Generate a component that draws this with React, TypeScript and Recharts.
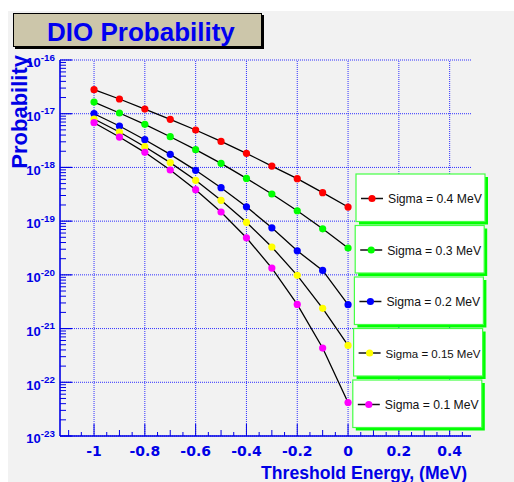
import React from 'react';
import { LineChart, Line, XAxis, YAxis, ReferenceLine, Legend } from 'recharts';

const W = 514;
const H = 482;
const AXIS_BLUE = '#0000e6';
const GRID_BLUE = '#2f2fff';
const FONT = '"Liberation Sans", Arial, Helvetica, sans-serif';

// Threshold energies (MeV) and DIO probabilities for each resolution
const thresholds = [-1, -0.9, -0.8, -0.7, -0.6, -0.5, -0.4, -0.3, -0.2, -0.1, 0];
const sigma04 = [2.8e-17, 1.88e-17, 1.22e-17, 7.85e-18, 4.97e-18, 3.05e-18, 1.83e-18, 1.06e-18, 6.17e-19, 3.39e-19, 1.83e-19];
const sigma03 = [1.65e-17, 1.03e-17, 6.34e-18, 3.73e-18, 2.14e-18, 1.19e-18, 6.25e-19, 3.2e-19, 1.56e-19, 7.2e-20, 3.16e-20];
const sigma02 = [1.0e-17, 5.9e-18, 3.28e-18, 1.75e-18, 8.83e-19, 4.19e-19, 1.85e-19, 7.5e-20, 2.8e-20, 1.21e-20, 2.78e-21];
const sigma015 = [7.96e-18, 4.56e-18, 2.43e-18, 1.23e-18, 5.75e-19, 2.44e-19, 9.5e-20, 3.3e-20, 9.8e-21, 2.38e-21, 4.86e-22];
const sigma01 = [6.8e-18, 3.68e-18, 1.91e-18, 8.95e-19, 3.85e-19, 1.48e-19, 4.9e-20, 1.34e-20, 2.82e-21, 4.34e-22, 4.2e-23];

const seriesLabels = ['Sigma = 0.4 MeV', 'Sigma = 0.3 MeV', 'Sigma = 0.2 MeV', 'Sigma = 0.15 MeV', 'Sigma = 0.1 MeV'];
const seriesKeys = ['s04', 's03', 's02', 's015', 's01'];
const seriesColors = ['#ff0000', '#00ff00', '#0000ff', '#ffff00', '#ff00ff'];
const seriesValues = [sigma04, sigma03, sigma02, sigma015, sigma01];

// Axis ticks
const xDomain = [-1.134, 0.484];
const xTicks = [-1.1, -1.05, -1, -0.95, -0.9, -0.85, -0.8, -0.75, -0.7, -0.65, -0.6, -0.55, -0.5, -0.45, -0.4,
  -0.35, -0.3, -0.25, -0.2, -0.15, -0.1, -0.05, 0, 0.05, 0.1, 0.15, 0.2, 0.25, 0.3, 0.35, 0.4, 0.45];
const xLabelled = [-1, -0.8, -0.6, -0.4, -0.2, 0, 0.2, 0.4];
const yDecades = [1e-23, 1e-22, 1e-21, 1e-20, 1e-19, 1e-18, 1e-17, 1e-16];
const yExponents = [-23, -22, -21, -20, -19, -18, -17, -16];

const yMinorTicks: number[] = [];
yExponents.slice(0, -1).forEach((e) => {
  for (let m = 2; m <= 9; m++) yMinorTicks.push(m * Math.pow(10, e));
});
const yTicks = [...yDecades, ...yMinorTicks].sort((a, b) => a - b);

const data = thresholds.map((x, i) => {
  const row: Record<string, number> = { x };
  seriesKeys.forEach((k, j) => {
    row[k] = seriesValues[j][i];
  });
  return row;
});

const isDecade = (v: number) => yDecades.some((d) => Math.abs(v - d) < d * 1e-6);

const YTick = (props: any) => {
  const { x, y, payload } = props;
  const v = payload.value;
  if (!isDecade(v)) {
    return <line x1={x} x2={x + 6} y1={y} y2={y} stroke={AXIS_BLUE} strokeWidth={1} />;
  }
  const exp = Math.round(Math.log10(v));
  return (
    <g>
      <line x1={x} x2={x + 12} y1={y} y2={y} stroke={AXIS_BLUE} strokeWidth={1.2} />
      <text x={x - 5} y={y + 7.3} textAnchor="end" fill={AXIS_BLUE} fontFamily={FONT} fontWeight="bold" fontSize={13}>
        10
        <tspan dy={-6.6} fontSize={9.8}>{String(exp)}</tspan>
      </text>
    </g>
  );
};

const XTick = (props: any) => {
  const { x, y, payload } = props;
  const v = payload.value;
  const hundredths = Math.round(v * 100);
  const major = hundredths % 20 === 0;
  const medium = hundredths % 10 === 0;
  const len = major ? 12 : medium ? 6 : 4;
  const labelled = xLabelled.some((l) => Math.abs(l - v) < 1e-9);
  return (
    <g>
      <line x1={x} x2={x} y1={y} y2={y - len} stroke={AXIS_BLUE} strokeWidth={1} />
      {labelled && (
        <text x={x} y={y + 20} textAnchor="middle" fill={AXIS_BLUE} fontFamily='"DejaVu Sans", sans-serif' fontWeight="bold" fontSize={14}>
          {String(v)}
        </text>
      )}
    </g>
  );
};

const XTitle = (props: any) => {
  const vb = props.viewBox;
  return (
    <text x={vb.x + vb.width - 4} y={vb.y + 43} textAnchor="end" fill={AXIS_BLUE} fontFamily={FONT} fontWeight="bold" fontSize={17.6}>
      Threshold Energy, (MeV)
    </text>
  );
};

const YTitle = (props: any) => {
  const vb = props.viewBox;
  const tx = vb.x + 26.5;
  const ty = vb.y - 5;
  return (
    <text x={tx} y={ty} transform={`rotate(-90 ${tx} ${ty})`} textAnchor="end" fill={AXIS_BLUE} fontFamily={FONT} fontWeight="bold" fontSize={22}>
      Probability
    </text>
  );
};

// One boxed entry per series, stacked down the right side in series order
const LegendBoxes = (props: any) => {
  const payload = props.payload || [];
  return (
    <svg width={W} height={H} style={{ position: 'absolute', left: 0, top: 0 }}>
      {payload.map((p: any) => {
        const idx = seriesKeys.indexOf(p.dataKey);
        if (idx < 0) return null;
        const left = 356 - idx * 0.8;
        const top = 174 + idx * 51.5;
        const w = 129;
        const h = 47.5;
        const label = seriesLabels[idx];
        const fs = label.length > 15 ? 11.5 : 12.2;
        return (
          <g key={p.dataKey}>
            <rect x={left + 3} y={top + 3} width={w} height={h} fill="#00ff00" />
            <rect x={left} y={top} width={w} height={h} fill="#ffffff" stroke="#44ff44" strokeWidth={1.2} />
            <line x1={left + 5} x2={left + 27} y1={top + 24.5} y2={top + 24.5} stroke="#111" strokeWidth={1.5} />
            <circle cx={left + 16} cy={top + 24.5} r={3.6} fill={seriesColors[idx]} />
            <text x={left + 32} y={top + 29} fill="#111" fontFamily={FONT} fontSize={fs}>
              {label}
            </text>
          </g>
        );
      })}
    </svg>
  );
};

export default function App() {
  return (
    <div style={{ position: 'absolute', left: 0, top: 0, width: W, height: H, background: '#ffffff', overflow: 'hidden' }}>
      <div style={{ position: 'absolute', left: 8, top: 11, width: W - 8, height: H - 11, background: '#f2f2f2' }} />
      <svg width={W} height={H} style={{ position: 'absolute', left: 0, top: 0 }}>
        <rect x={15} y={15} width={249} height={34} fill="#000" />
        <rect x={13.5} y={13.5} width={248} height={33} fill="#ccc6aa" stroke="#000" strokeWidth={1} />
        <text x={47} y={40.7} fill="#0000f0" fontFamily={FONT} fontWeight="bold" fontSize={26}>
          DIO Probability
        </text>
      </svg>
      <div style={{ position: 'absolute', left: 0, top: 0 }}>
        <LineChart width={W} height={H} data={data} margin={{ top: 60, right: 43, bottom: 0, left: 0 }}>
          <XAxis
            dataKey="x"
            type="number"
            domain={xDomain}
            allowDataOverflow
            ticks={xTicks}
            interval={0}
            tick={<XTick />}
            tickSize={0}
            tickMargin={0}
            tickLine={false}
            height={46}
            axisLine={{ stroke: AXIS_BLUE, strokeWidth: 1.6 }}
            label={<XTitle />}
          />
          <XAxis xAxisId="top" orientation="top" type="number" domain={[0, 1]} height={0} tick={false} tickLine={false}
            axisLine={{ stroke: '#333', strokeWidth: 1.5 }} />
          <YAxis
            scale="log"
            type="number"
            domain={[1e-23, 1e-16]}
            allowDataOverflow
            ticks={yTicks}
            interval={0}
            tick={<YTick />}
            tickSize={0}
            tickMargin={0}
            tickLine={false}
            width={60}
            axisLine={{ stroke: AXIS_BLUE, strokeWidth: 1.6 }}
            label={<YTitle />}
          />
          <YAxis yAxisId="right" orientation="right" type="number" domain={[0, 1]} width={0} tick={false} tickLine={false}
            axisLine={{ stroke: '#111', strokeWidth: 1.6 }} />
          {yDecades.map((d) => (
            <ReferenceLine key={`h${d}`} y={d} stroke={GRID_BLUE} strokeDasharray="1 1" strokeWidth={1} ifOverflow="extendDomain" />
          ))}
          {xLabelled.map((v) => (
            <ReferenceLine key={`v${v}`} x={v} stroke={GRID_BLUE} strokeDasharray="1 1" strokeWidth={1} />
          ))}
          {seriesKeys.map((k, j) => (
            <Line
              key={k}
              dataKey={k}
              name={seriesLabels[j]}
              type="linear"
              stroke="#000"
              strokeWidth={1.3}
              dot={{ r: 3.6, fill: seriesColors[j], stroke: 'none' }}
              activeDot={false}
              isAnimationActive={false}
            />
          ))}
          <Legend
            layout="vertical"
            align="center"
            verticalAlign="middle"
            content={<LegendBoxes />}
            wrapperStyle={{ position: 'absolute', left: 0, top: 0, width: W, height: H, pointerEvents: 'none' }}
          />
        </LineChart>
      </div>
    </div>
  );
}
